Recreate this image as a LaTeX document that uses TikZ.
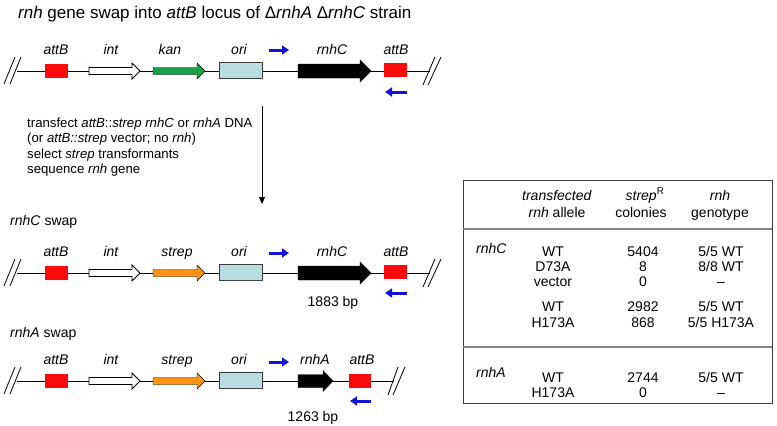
\documentclass[tikz,border=0pt]{standalone}
\usepackage{fontspec}
\setmainfont{Liberation Sans}
\usetikzlibrary{arrows.meta}
\definecolor{attbred}{RGB}{250,10,10}
\definecolor{kangreen}{RGB}{24,160,70}
\definecolor{streporange}{RGB}{255,145,20}
\definecolor{orifill}{RGB}{184,221,225}
\definecolor{primerblue}{RGB}{20,20,215}
\definecolor{sepgray}{RGB}{130,130,130}
\definecolor{boxgray}{RGB}{60,60,60}
% gene arrow: style, x1, xhead, xtip, ycenter, body half height, head half height
\newcommand\genearr[7]{%
  \draw[#1] (#2,{#5-#6}) -- (#3,{#5-#6}) -- (#3,{#5-#7}) -- (#4,#5) -- (#3,{#5+#7}) -- (#3,{#5+#6}) -- (#2,{#5+#6}) -- cycle;}
\begin{document}
\begin{tikzpicture}[x=1pt,y=-1pt,
  lbl/.style={font=\fontsize{14}{16}\selectfont\itshape, inner sep=0, anchor=base},
  txt/.style={font=\fontsize{13.2}{15}\selectfont, inner sep=0, anchor=base west},
  tb/.style={font=\fontsize{14}{16}\selectfont, inner sep=0, anchor=base},
  attbbox/.style={fill=attbred, minimum width=23pt, minimum height=14pt, inner sep=0},
  oribox/.style={fill=orifill, draw=boxgray, line width=0.8pt, minimum width=43pt, minimum height=16pt, inner sep=0},
  dna/.style={line width=0.8pt},
  brk/.style={line width=0.8pt},
  primer/.style={primerblue, line width=3pt, -{Triangle[length=7pt,width=9pt]}},
  openarr/.style={fill=white, draw=black, line width=0.8pt},
  kanarr/.style={fill=kangreen},
  streparr/.style={fill=streporange},
  blackarr/.style={fill=black},
  sep/.style={draw=sepgray, line width=1.6pt},
]
\useasboundingbox (0,0) rectangle (777,426);

% title
\node[anchor=base west, inner sep=0, font=\fontsize{17}{20}\selectfont] (title) at (18,18)
  {\textit{rnh} gene swap into \textit{attB} locus of Δ\textit{rnhA} Δ\textit{rnhC} strain};

% ---------------- row 1 ----------------
\coordinate (r1L) at (17,71);
\coordinate (r1R) at (430,71);
\draw[dna] (r1L) -- (r1R);
\draw[brk] (4,84) -- (15,57) (10,84) -- (21,57);
\draw[brk] (423,85) -- (435,57) (428,85) -- (441,57);
\node[attbbox] (r1attb1) at (56.5,70.5) {};
\genearr{openarr}{89}{132}{140}{71}{3.5}{8}
\genearr{kanarr}{153}{197}{205}{71}{3.5}{8}
\node[oribox] (r1ori) at (240.5,70.5) {};
\genearr{blackarr}{298}{360}{371}{71}{7}{11}
\node[attbbox] (r1attb2) at (395.5,70) {};
\coordinate (p1a) at (269,50); \coordinate (p1b) at (289,50);
\draw[primer] (p1a) -- (p1b);
\coordinate (p2a) at (407,92); \coordinate (p2b) at (385,92);
\draw[primer] (p2a) -- (p2b);
\node[lbl] (l1a) at (56,54) {attB};
\node[lbl] (l1b) at (111,54) {int};
\node[lbl] (l1c) at (170,54) {kan};
\node[lbl] (l1d) at (239,54) {ori};
\node[lbl] (l1e) at (332,54) {rnhC};
\node[lbl] (l1f) at (396,54) {attB};

% text block and arrow
\node[txt] (t1) at (27,127) {transfect \textit{attB}::\textit{strep rnhC} or \textit{rnhA} DNA};
\node[txt] (t2) at (27,142.5) {(or \textit{attB::strep} vector; no \textit{rnh})};
\node[txt] (t3) at (27,158) {select \textit{strep} transformants};
\node[txt] (t4) at (27,173.5) {sequence \textit{rnh} gene};
\coordinate (v1) at (262,106);
\coordinate (v2) at (262,204);
\draw[line width=0.8pt, -{Triangle[length=7pt,width=6pt]}] (v1) -- (v2);

% ---------------- row 2 ----------------
\node[txt, font=\fontsize{14}{16}\selectfont] (sw1) at (10,225) {\textit{rnhC} swap};
\coordinate (r2L) at (17,273);
\coordinate (r2R) at (430,273);
\draw[dna] (r2L) -- (r2R);
\draw[brk] (4,286) -- (15,259) (10,286) -- (21,259);
\draw[brk] (423,287) -- (435,259) (428,287) -- (441,259);
\node[attbbox] (r2attb1) at (56.5,272.5) {};
\genearr{openarr}{89}{132}{140}{273}{3.5}{8}
\genearr{streparr}{153}{197}{205}{273}{3.5}{8}
\node[oribox] (r2ori) at (240.5,272.5) {};
\genearr{blackarr}{298}{360}{371}{273}{7}{11}
\node[attbbox] (r2attb2) at (395.5,272) {};
\coordinate (p3a) at (269,253); \coordinate (p3b) at (289,253);
\draw[primer] (p3a) -- (p3b);
\coordinate (p4a) at (407,293); \coordinate (p4b) at (385,293);
\draw[primer] (p4a) -- (p4b);
\node[lbl] (l2a) at (56,256) {attB};
\node[lbl] (l2b) at (111,256) {int};
\node[lbl] (l2c) at (177,256) {strep};
\node[lbl] (l2d) at (239,256) {ori};
\node[lbl] (l2e) at (332,256) {rnhC};
\node[lbl] (l2f) at (396,256) {attB};
\node[tb] (bp1) at (333,306) {1883 bp};

% ---------------- row 3 ----------------
\node[txt, font=\fontsize{14}{16}\selectfont] (sw2) at (10,337) {\textit{rnhA} swap};
\coordinate (r3L) at (17,381);
\coordinate (r3R) at (394,381);
\draw[dna] (r3L) -- (r3R);
\draw[brk] (4,394) -- (15,367) (10,394) -- (21,367);
\draw[brk] (388,395) -- (398,367) (393,395) -- (405,367);
\node[attbbox] (r3attb1) at (56.5,380.5) {};
\genearr{openarr}{89}{132}{140}{381}{3.5}{8}
\genearr{streparr}{153}{197}{205}{381}{3.5}{8}
\node[oribox] (r3ori) at (240.5,380.5) {};
\genearr{blackarr}{298}{323}{333}{381}{6.5}{10.5}
\node[attbbox, minimum width=22pt] (r3attb2) at (360,380.5) {};
\coordinate (p5a) at (269,362); \coordinate (p5b) at (289,362);
\draw[primer] (p5a) -- (p5b);
\coordinate (p6a) at (371,401); \coordinate (p6b) at (350,401);
\draw[primer] (p6a) -- (p6b);
\node[lbl] (l3a) at (56,364) {attB};
\node[lbl] (l3b) at (111,364) {int};
\node[lbl] (l3c) at (177,364) {strep};
\node[lbl] (l3d) at (239,364) {ori};
\node[lbl] (l3e) at (315,364) {rnhA};
\node[lbl] (l3f) at (362,364) {attB};
\node[tb] (bp2) at (313,421) {1263 bp};

% ---------------- table ----------------
\node[draw=boxgray, line width=0.9pt, minimum width=309pt, minimum height=223pt, anchor=north west, inner sep=0] (tbl) at (463,180) {};
\coordinate (s1l) at (463,229); \coordinate (s1r) at (772,229);
\coordinate (s2l) at (463,347); \coordinate (s2r) at (772,347);
\draw[sep] (s1l) -- (s1r);
\draw[sep] (s2l) -- (s2r);

\node[tb] (h1a) at (557,200) {\textit{transfected}};
\node[tb] (h2a) at (557,217) {\textit{rnh} allele};
\node[tb] (h1b) at (645,200) {\textit{strep}\textsuperscript{R}};
\node[tb] (h2b) at (641,217) {colonies};
\node[tb] (h1c) at (720,200) {\textit{rnh}};
\node[tb] (h2c) at (720,217) {genotype};

\node[tb, anchor=base west] (gC) at (476,253) {\textit{rnhC}};
\node[tb, anchor=base west] (gA) at (476,377) {\textit{rnhA}};

\node[tb] (a1) at (553,256) {WT};
\node[tb] (a2) at (553,271) {D73A};
\node[tb] (a3) at (553,286) {vector};
\node[tb] (a4) at (553,311) {WT};
\node[tb] (a5) at (553,327) {H173A};
\node[tb] (a6) at (553,382) {WT};
\node[tb] (a7) at (553,397) {H173A};

\node[tb] (b1) at (643,256) {5404};
\node[tb] (b2) at (643,271) {8};
\node[tb] (b3) at (643,286) {0};
\node[tb] (b4) at (643,311) {2982};
\node[tb] (b5) at (643,327) {868};
\node[tb] (b6) at (643,382) {2744};
\node[tb] (b7) at (643,397) {0};

\node[tb] (c1) at (721,256) {5/5 WT};
\node[tb] (c2) at (721,271) {8/8 WT};
\node[tb] (c3) at (721,286) {–};
\node[tb] (c4) at (721,311) {5/5 WT};
\node[tb] (c5) at (721,327) {5/5 H173A};
\node[tb] (c6) at (721,382) {5/5 WT};
\node[tb] (c7) at (721,397) {–};
\end{tikzpicture}
\end{document}
